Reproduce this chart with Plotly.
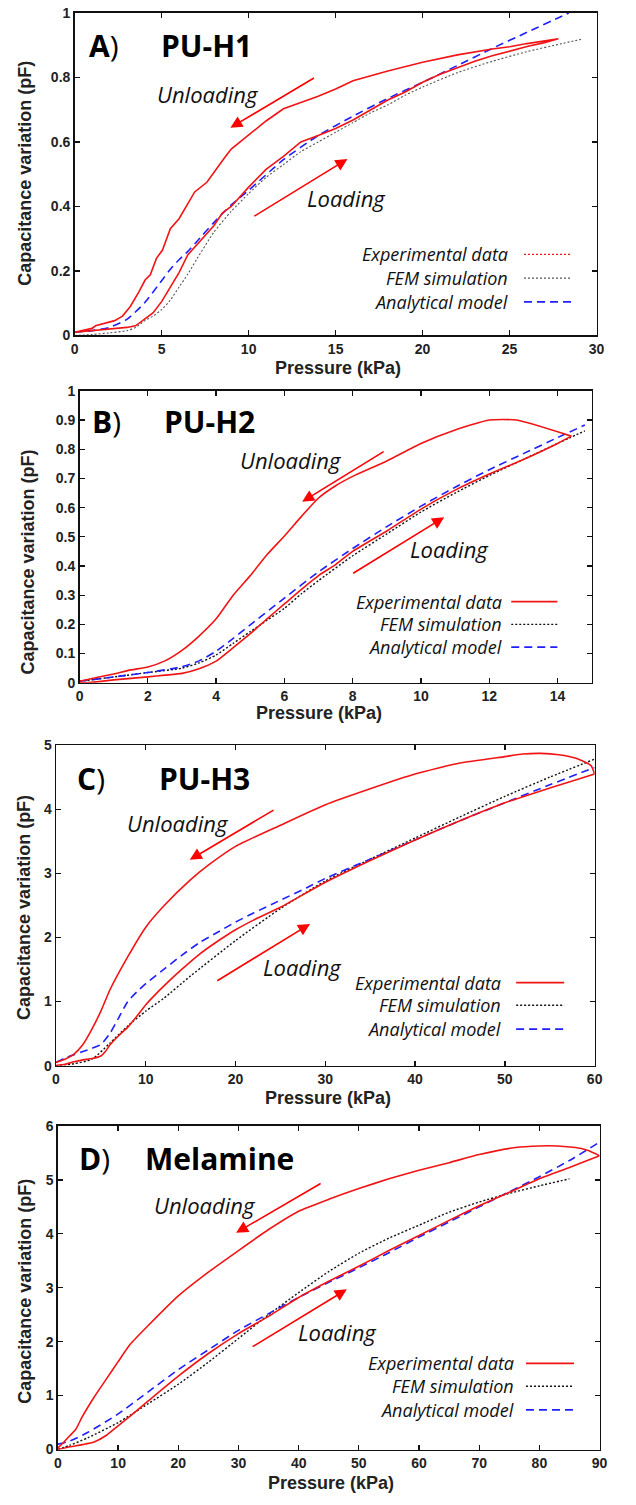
import plotly.graph_objects as go

# ---------------- DATA ----------------
# Panel A : PU-H1
A_load_p = [0, 1, 2, 3, 3.5, 4, 4.5, 5, 5.5, 6, 6.5, 7, 7.5, 8, 8.5, 9, 10, 11, 12, 13, 14, 15, 16, 17, 18, 19, 20, 21, 22, 23, 24, 25, 26, 27, 27.8]
A_load_c = [0.01, 0.015, 0.02, 0.025, 0.03, 0.05, 0.07, 0.105, 0.15, 0.195, 0.25, 0.28, 0.31, 0.34, 0.38, 0.40, 0.46, 0.515, 0.555, 0.60, 0.62, 0.642, 0.668, 0.70, 0.73, 0.755, 0.785, 0.81, 0.83, 0.85, 0.867, 0.882, 0.896, 0.908, 0.918]
A_unload_p = [27.8, 26, 25, 24, 22, 20, 18, 16, 15, 14, 13, 12, 11, 10, 9, 8.7, 8, 7.6, 6.9, 6.5, 6, 5.5, 5.05, 4.7, 4.35, 4.05, 3.7, 3.2, 2.75, 2.3, 1.8, 1.5, 1.2, 1.0, 0.5, 0]
A_unload_c = [0.92, 0.905, 0.895, 0.888, 0.87, 0.847, 0.82, 0.79, 0.764, 0.742, 0.722, 0.703, 0.665, 0.62, 0.578, 0.557, 0.505, 0.475, 0.445, 0.41, 0.362, 0.331, 0.265, 0.239, 0.188, 0.172, 0.136, 0.09, 0.06, 0.046, 0.039, 0.036, 0.03, 0.022, 0.015, 0.01]
A_fem_p = [0, 1, 2, 3, 3.5, 4, 4.5, 5, 5.5, 6, 6.5, 7, 8, 9, 10, 11, 12, 13, 14, 15, 16, 17, 18, 19, 20, 22, 24, 26, 28, 29.1]
A_fem_c = [0.0, 0.003, 0.008, 0.015, 0.025, 0.045, 0.06, 0.08, 0.11, 0.15, 0.19, 0.235, 0.32, 0.385, 0.44, 0.49, 0.53, 0.57, 0.60, 0.63, 0.66, 0.69, 0.715, 0.745, 0.77, 0.815, 0.85, 0.88, 0.905, 0.918]
A_ana_p = [0, 1, 2, 3, 4, 5, 5.5, 6, 6.5, 7, 8, 9, 10, 12, 14, 16, 18, 20, 22, 24, 26, 28, 28.4]
A_ana_c = [0.01, 0.015, 0.025, 0.05, 0.1, 0.17, 0.205, 0.235, 0.26, 0.29, 0.35, 0.405, 0.45, 0.545, 0.62, 0.68, 0.735, 0.785, 0.837, 0.89, 0.94, 0.99, 1.0]

# Panel B : PU-H2
B_load_p = [0, 0.2, 0.5, 1, 1.5, 2, 2.5, 3, 3.5, 4, 4.5, 5, 5.5, 6, 6.5, 7, 7.5, 8, 9, 10, 11, 12, 13, 14, 14.4]
B_load_c = [0.0, 0.0, 0.003, 0.01, 0.015, 0.02, 0.026, 0.032, 0.048, 0.074, 0.12, 0.168, 0.22, 0.27, 0.32, 0.367, 0.405, 0.45, 0.52, 0.595, 0.66, 0.715, 0.765, 0.82, 0.845]
B_unload_p = [14.4, 12.8, 12.0, 11, 10, 9, 8, 7.5, 7, 6.5, 6, 5.5, 5, 4.5, 4, 3.5, 3, 2.5, 2, 1.5, 1, 0.5, 0]
B_unload_c = [0.845, 0.9, 0.9, 0.866, 0.82, 0.76, 0.707, 0.675, 0.633, 0.57, 0.503, 0.44, 0.367, 0.30, 0.219, 0.16, 0.111, 0.075, 0.054, 0.044, 0.03, 0.018, 0.005]
B_fem_p = [0, 1, 2, 3, 3.5, 4, 4.5, 5, 5.5, 6, 6.5, 7, 8, 9, 10, 11, 12, 13, 14, 14.8]
B_fem_c = [0.005, 0.02, 0.035, 0.05, 0.068, 0.095, 0.135, 0.175, 0.215, 0.255, 0.305, 0.35, 0.435, 0.51, 0.585, 0.65, 0.71, 0.765, 0.82, 0.863]
B_ana_p = [0, 1, 2, 3, 3.5, 4, 4.5, 5, 6, 7, 8, 9, 10, 11, 12, 13, 14, 14.8]
B_ana_c = [0.005, 0.02, 0.035, 0.055, 0.075, 0.108, 0.152, 0.198, 0.29, 0.38, 0.46, 0.535, 0.605, 0.67, 0.73, 0.785, 0.84, 0.883]

# Panel C : PU-H3
C_load_p = [0, 1, 2, 3, 4, 5, 5.5, 6, 7, 8, 9, 10, 11, 12, 14, 16, 18, 20, 22, 25, 30, 35, 40, 45, 50, 55, 60]
C_load_c = [0.0, 0.02, 0.06, 0.09, 0.11, 0.15, 0.22, 0.32, 0.47, 0.6, 0.77, 0.95, 1.1, 1.24, 1.5, 1.74, 1.94, 2.12, 2.27, 2.47, 2.86, 3.2, 3.52, 3.82, 4.1, 4.33, 4.55]
C_unload_p = [60, 59.6, 58, 56, 54, 52, 50, 45, 40, 35, 30, 25, 20, 17, 15, 12, 10, 8, 6, 5, 4, 3, 2, 1, 0.2, 0]
C_unload_c = [4.55, 4.68, 4.79, 4.85, 4.87, 4.86, 4.82, 4.72, 4.55, 4.32, 4.07, 3.75, 3.42, 3.13, 2.9, 2.49, 2.16, 1.70, 1.18, 0.85, 0.57, 0.33, 0.18, 0.10, 0.06, 0.05]
C_fem_p = [0, 2, 4, 6, 8, 10, 12, 15, 20, 25, 30, 35, 40, 45, 50, 55, 60]
C_fem_c = [0.0, 0.03, 0.1, 0.35, 0.62, 0.85, 1.05, 1.4, 1.95, 2.45, 2.88, 3.22, 3.55, 3.88, 4.2, 4.5, 4.78]
C_ana_p = [0, 1, 2, 3, 4, 5, 6, 7, 8, 9, 10, 12, 14, 16, 18, 20, 22, 25, 28, 30, 35, 40, 45, 50, 55, 60]
C_ana_c = [0.05, 0.12, 0.17, 0.22, 0.27, 0.33, 0.5, 0.75, 1.0, 1.15, 1.28, 1.5, 1.72, 1.92, 2.08, 2.24, 2.38, 2.58, 2.78, 2.92, 3.22, 3.52, 3.82, 4.1, 4.38, 4.65]

# Panel D : Melamine
D_load_p = [0, 2, 4, 6, 8, 10, 12, 15, 20, 25, 30, 35, 40, 45, 50, 55, 60, 65, 70, 75, 80, 85, 90]
D_load_c = [0.0, 0.05, 0.09, 0.14, 0.26, 0.44, 0.62, 0.9, 1.36, 1.78, 2.15, 2.47, 2.82, 3.12, 3.4, 3.69, 3.97, 4.25, 4.52, 4.77, 5.02, 5.23, 5.45]
D_unload_p = [90, 88, 86, 83, 80, 76, 70, 65, 60, 55, 50, 45, 40, 35, 30, 25, 20, 15, 12, 10, 8, 6, 4, 3, 2, 1, 0]
D_unload_c = [5.45, 5.55, 5.6, 5.63, 5.63, 5.6, 5.47, 5.32, 5.18, 5.02, 4.84, 4.64, 4.42, 4.08, 3.69, 3.29, 2.85, 2.3, 1.95, 1.63, 1.3, 0.97, 0.6, 0.38, 0.26, 0.14, 0.03]
D_fem_p = [0, 2, 5, 10, 15, 20, 25, 30, 35, 40, 45, 50, 55, 60, 65, 70, 75, 80, 85]
D_fem_c = [0.0, 0.08, 0.22, 0.5, 0.85, 1.21, 1.62, 2.06, 2.5, 2.91, 3.3, 3.64, 3.92, 4.16, 4.4, 4.59, 4.75, 4.89, 5.02]
D_ana_p = [0, 2, 5, 10, 15, 20, 25, 30, 35, 40, 45, 50, 55, 60, 65, 70, 75, 80, 85, 90]
D_ana_c = [0.1, 0.16, 0.32, 0.66, 1.07, 1.48, 1.85, 2.21, 2.52, 2.82, 3.1, 3.37, 3.65, 3.94, 4.22, 4.5, 4.78, 5.06, 5.36, 5.7]

panel_letters = ["A", "B", "C", "D"]
panel_names = ["PU-H1", "PU-H2", "PU-H3", "Melamine"]
x_ranges = [[0, 30], [0, 15], [0, 60], [0, 90]]
x_dticks = [5, 2, 10, 10]
y_ranges = [[0, 1], [0, 1], [0, 5], [0, 6]]
y_dticks = [0.2, 0.1, 1, 1]
legend_labels = ["Experimental data", "FEM simulation", "Analytical model"]
x_title = "Pressure (kPa)"
y_title = "Capacitance variation (pF)"

data = [
    (A_load_p, A_load_c, A_unload_p, A_unload_c, A_fem_p, A_fem_c, A_ana_p, A_ana_c),
    (B_load_p, B_load_c, B_unload_p, B_unload_c, B_fem_p, B_fem_c, B_ana_p, B_ana_c),
    (C_load_p, C_load_c, C_unload_p, C_unload_c, C_fem_p, C_fem_c, C_ana_p, C_ana_c),
    (D_load_p, D_load_c, D_unload_p, D_unload_c, D_fem_p, D_fem_c, D_ana_p, D_ana_c),
]

# ---------------- LAYOUT (pixel geometry) ----------------
W, H = 636, 1505
def fx(px):
    return px / W
def fy(py):
    return 1 - py / H

# plot boxes: left, right, top, bottom in pixels
boxes = [(72, 604, 5, 331), (77, 599, 387, 682), (53, 602, 745, 1069), (55, 607, 1130, 1457)]
ytitle_pos = [(22, 167), (24, 560), (21, 909), (22, 1297)]
xtitle_pos = [(340, 364), (321, 713), (330, 1102), (333, 1491)]
letter_pos = [(102, 38), (104, 418), (89, 779), (92, 1163)]
name_pos = [(206, 38), (209, 418), (204, 779), (220, 1163)]
unload_txt = [(208, 87), (293, 457), (177, 824), (205, 1210)]
load_txt = [(349, 192), (454, 547), (304, 969), (340, 1338)]
# arrows in data units: (tail_x, tail_y, head_x, head_y)
unload_arrow = [(13.84, 0.801, 8.95, 0.644), (8.95, 0.795, 6.52, 0.62), (24.4, 4.0, 14.9, 3.21), (43.9, 4.95, 29.6, 4.02)]
load_arrow = [(10.24, 0.367, 15.68, 0.547), (7.97, 0.372, 10.68, 0.567), (17.8, 1.31, 28.3, 2.21), (32.1, 1.89, 48.0, 2.97)]
# legend rows (y px), text right edge, sample start/end
legend_rows = [(249, 273, 297), (600, 623, 646), (985, 1008, 1032), (1370, 1393, 1417)]
legend_text_right = [516, 510, 509, 522]
legend_sample = [(530, 578), (517, 564), (522, 571), (532, 581)]

RED = "#f21414"
BLUE = "#1f1fff"
BLACK = "#111111"

fig = go.Figure()
annotations = []
shapes = []

for i in range(4):
    lp, lc, up, uc, fp, fc, ap, ac = data[i]
    sfx = "" if i == 0 else str(i + 1)
    xa, ya = "x" + sfx, "y" + sfx
    fem_color = "#555555" if i == 0 else BLACK
    fem_w = 1.1 if i == 0 else 1.4
    exp_shape = "linear" if i == 0 else "spline"
    fig.add_trace(go.Scatter(x=fp, y=fc, mode="lines", xaxis=xa, yaxis=ya, line_shape="spline",
                             line=dict(color=fem_color, width=fem_w, dash="2px,2px", smoothing=0.6),
                             showlegend=False, hoverinfo="skip"))
    fig.add_trace(go.Scatter(x=ap, y=ac, mode="lines", xaxis=xa, yaxis=ya, line_shape="spline",
                             line=dict(color=BLUE, width=1.6, dash="8px,5px", smoothing=0.6),
                             showlegend=False, hoverinfo="skip"))
    fig.add_trace(go.Scatter(x=lp + up, y=lc + uc, mode="lines", xaxis=xa, yaxis=ya, line_shape=exp_shape,
                             line=dict(color=RED, width=1.6, smoothing=0.5), showlegend=False,
                             hoverinfo="skip"))

    l, r, t, b = boxes[i]
    axis_common = dict(showline=True, linecolor=BLACK, linewidth=1.5, mirror="ticks",
                       ticks="inside", ticklen=5, tickwidth=1.3, tickcolor=BLACK,
                       showgrid=False, zeroline=False, fixedrange=True,
                       tickfont=dict(family="Liberation Sans", size=14, color="#222", weight="bold"))
    fig.layout["xaxis" + sfx] = dict(axis_common, domain=[fx(l), fx(r)], range=x_ranges[i],
                                     dtick=x_dticks[i], tick0=0, anchor=ya)
    fig.layout["yaxis" + sfx] = dict(axis_common, domain=[fy(b), fy(t)], range=y_ranges[i],
                                     dtick=y_dticks[i], tick0=0, anchor=xa)

    # axis titles
    annotations.append(dict(x=fx(xtitle_pos[i][0]), y=fy(xtitle_pos[i][1]), xref="paper", yref="paper",
                            text=x_title, showarrow=False, xanchor="center", yanchor="middle",
                            font=dict(family="Liberation Sans", size=18, color="#222", weight="bold")))
    annotations.append(dict(x=fx(ytitle_pos[i][0]), y=fy(ytitle_pos[i][1]), xref="paper", yref="paper",
                            text=y_title, showarrow=False, textangle=-90, xanchor="center", yanchor="middle",
                            font=dict(family="Liberation Sans", size=18, color="#222", weight="bold")))
    # panel letter and name
    annotations.append(dict(x=fx(letter_pos[i][0]), y=fy(letter_pos[i][1]), xref="paper", yref="paper",
                            text="<b>" + panel_letters[i] + "</b>)", showarrow=False,
                            xanchor="center", yanchor="middle",
                            font=dict(family="Open Sans", size=30, color="black")))
    annotations.append(dict(x=fx(name_pos[i][0]), y=fy(name_pos[i][1]), xref="paper", yref="paper",
                            text="<b>" + panel_names[i] + "</b>", showarrow=False,
                            xanchor="center", yanchor="middle",
                            font=dict(family="Open Sans", size=30, color="black")))
    # Unloading / Loading labels
    for (px, py), txt in ((unload_txt[i], "Unloading"), (load_txt[i], "Loading")):
        annotations.append(dict(x=fx(px), y=fy(py), xref="paper", yref="paper", text=txt,
                                showarrow=False, xanchor="center", yanchor="middle",
                                font=dict(family="Open Sans", size=22, color="#111", style="italic")))
    # arrows
    for (tx, ty, hx, hy) in (unload_arrow[i], load_arrow[i]):
        annotations.append(dict(x=hx, y=hy, ax=tx, ay=ty, xref=xa, yref=ya, axref=xa, ayref=ya,
                                text="", showarrow=True, arrowhead=2, arrowsize=1.5, arrowwidth=1.6,
                                arrowcolor="red", standoff=0, startstandoff=0))
    # legend
    styles = [
        dict(color=RED, width=1.2, dash="2px,2px") if i == 0 else dict(color=RED, width=1.8),
        dict(color=fem_color, width=fem_w, dash="2px,2px"),
        dict(color=BLUE, width=1.8, dash="8px,5px"),
    ]
    for k in range(3):
        ry = legend_rows[i][k]
        annotations.append(dict(x=fx(legend_text_right[i]), y=fy(ry), xref="paper", yref="paper",
                                text=legend_labels[k], showarrow=False, xanchor="right", yanchor="middle",
                                font=dict(family="Open Sans", size=18, color="#111", style="italic")))
        s0, s1 = legend_sample[i]
        shapes.append(dict(type="line", xref="paper", yref="paper", x0=fx(s0), x1=fx(s1),
                           y0=fy(ry), y1=fy(ry), line=styles[k]))

fig.update_layout(width=W, height=H, margin=dict(l=0, r=0, t=0, b=0),
                  paper_bgcolor="white", plot_bgcolor="white", hovermode=False,
                  annotations=annotations, shapes=shapes, showlegend=False)

# remove the browser's default 8px body margin so figure pixels map 1:1 to the page
fig.write_html("out.html", config={"displayModeBar": False, "staticPlot": True},
               post_script="document.body.style.margin='0';")
